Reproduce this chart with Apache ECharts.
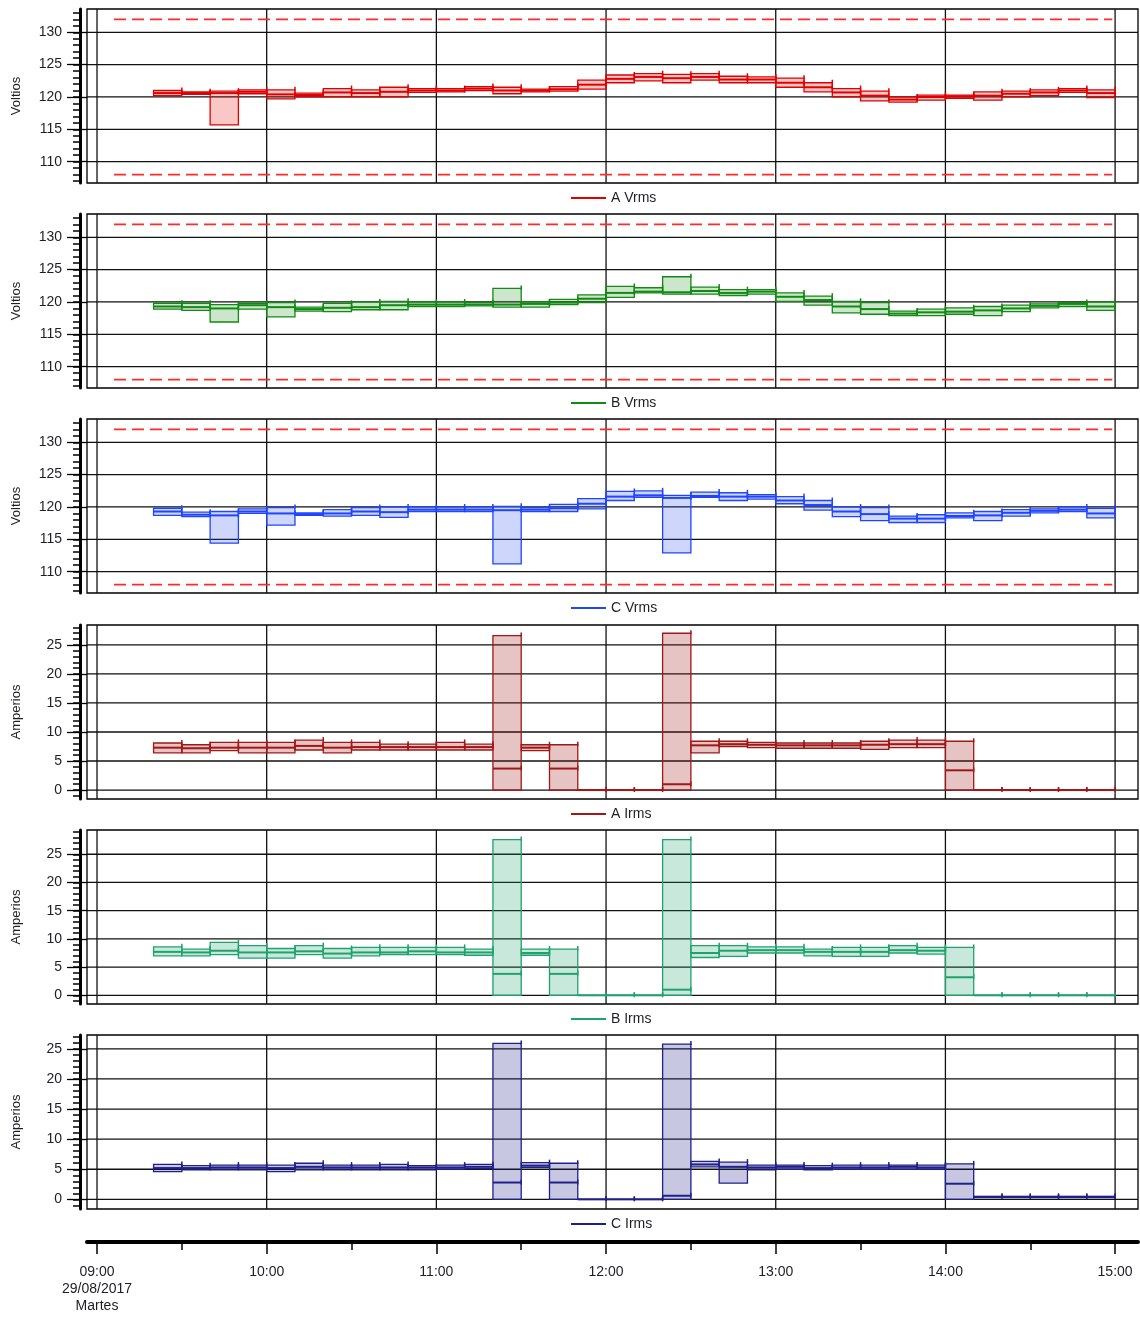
<!DOCTYPE html>
<html>
<head>
<meta charset="utf-8">
<script src="https://cdn.jsdelivr.net/npm/echarts@6/dist/echarts.min.js"></script>
<style>
  html, body { margin: 0; padding: 0; background: #fff; }
  #chart { width: 1140px; height: 1317px; }
</style>
</head>
<body>
<div id="chart"></div>
<script>
// 10-minute intervals: start time of each interval
const intervalStarts = ['09:20','09:30','09:40','09:50','10:00','10:10','10:20','10:30','10:40','10:50',
  '11:00','11:10','11:20','11:30','11:40','11:50','12:00','12:10','12:20','12:30',
  '12:40','12:50','13:00','13:10','13:20','13:30','13:40','13:50','14:00','14:10',
  '14:20','14:30','14:40','14:50'];
const intervalMinutes = 10;

// time axis labels
const hourLabels = ['09:00','10:00','11:00','12:00','13:00','14:00','15:00'];
const halfHourTicks = ['09:00','09:30','10:00','10:30','11:00','11:30','12:00','12:30','13:00','13:30','14:00','14:30','15:00'];
const firstLabelExtra = ['29/08/2017', 'Martes'];

// voltage limits (dashed lines) and their time span
const voltLimits = [108, 132];
const limitSpan = ['09:06', '14:59'];

// y tick labels
const voltTicks = [110, 115, 120, 125, 130];
const ampTicks = [0, 5, 10, 15, 20, 25];

// Phase voltages (max / average / min per interval)
const aVrmsMax = [121.0,120.8,120.9,121.1,121.1,120.6,121.3,121.1,121.5,121.3,121.3,121.6,121.5,121.2,121.6,122.6,123.4,123.6,123.5,123.6,123.2,123.1,122.9,122.2,121.3,120.9,120.0,120.3,120.3,120.8,120.9,121.1,121.3,121.1];
const aVrmsAvg = [120.6,120.6,120.6,120.8,120.4,120.3,120.7,120.6,120.8,121.0,121.0,121.3,121.0,121.0,121.2,121.9,122.8,123.1,122.9,123.1,122.7,122.7,122.2,121.5,120.7,120.2,119.6,120.0,120.1,120.2,120.5,120.7,121.0,120.6];
const aVrmsMin = [120.2,120.4,115.7,120.5,119.7,120.0,120.0,120.0,120.0,120.7,120.8,121.0,120.5,120.8,120.9,121.2,122.2,122.5,122.2,122.6,122.2,122.2,121.5,120.8,120.0,119.4,119.2,119.5,119.8,119.5,120.0,120.2,120.7,119.9];

const bVrmsMax = [119.8,119.8,119.6,119.8,119.9,119.2,119.8,120.0,120.1,120.0,120.0,119.9,122.1,120.0,120.4,121.1,122.4,122.2,123.9,122.3,121.9,121.9,121.4,120.9,120.1,119.9,118.6,118.9,119.1,119.3,119.5,119.7,119.9,120.0];
const bVrmsAvg = [119.3,119.2,119.0,119.5,119.2,118.9,119.1,119.2,119.5,119.6,119.6,119.6,119.6,119.7,119.9,120.5,121.4,121.6,121.5,121.7,121.4,121.6,120.8,120.3,119.3,118.9,118.2,118.4,118.5,118.7,119.0,119.4,119.7,119.3];
const bVrmsMin = [118.9,118.7,116.9,118.9,117.7,118.6,118.5,118.8,118.8,119.3,119.3,119.4,119.2,119.2,119.6,119.9,120.7,121.4,121.2,121.2,121.0,121.2,120.1,119.5,118.3,118.1,117.9,117.9,118.1,117.9,118.5,119.1,119.3,118.7];

const cVrmsMax = [119.8,119.2,119.3,119.7,119.9,119.1,119.6,119.9,120.0,120.0,120.0,120.0,120.1,119.9,120.4,121.3,122.4,122.5,121.8,122.3,122.2,121.9,121.6,121.0,120.0,119.9,118.6,118.8,119.1,119.3,119.6,119.7,120.0,119.8];
const cVrmsAvg = [119.3,118.8,118.7,119.3,119.0,118.9,119.0,119.3,119.2,119.6,119.6,119.6,119.5,119.6,119.8,120.5,121.6,121.8,121.4,121.7,121.6,121.6,121.0,120.3,119.3,118.9,118.2,118.2,118.6,118.7,119.1,119.4,119.6,119.0];
const cVrmsMin = [118.7,118.5,114.4,119.0,117.2,118.7,118.6,118.7,118.4,119.3,119.3,119.3,111.2,119.3,119.3,119.7,121.0,121.5,112.9,121.5,121.0,121.2,120.5,119.5,118.5,117.9,117.6,117.6,118.3,117.9,118.6,119.1,119.3,118.3];

// Phase currents (max / average / min per interval)
const aIrmsMax = [8.1,7.8,8.2,8.2,8.2,8.6,8.2,8.2,7.9,7.9,8.2,7.9,26.6,7.8,7.8,0,0,0,27.0,8.4,8.4,8.2,8.1,8.1,8.1,8.4,8.6,8.6,8.4,0,0,0,0,0];
const aIrmsAvg = [7.3,7.2,7.3,7.3,7.3,7.6,7.3,7.4,7.4,7.4,7.4,7.4,3.7,7.3,3.7,0,0,0,1.0,7.7,7.9,7.8,7.7,7.7,7.7,7.8,7.9,7.9,3.4,0,0,0,0,0];
const aIrmsMin = [6.4,6.4,6.8,6.4,6.4,6.9,6.4,6.9,6.9,6.9,6.9,6.9,0,6.8,0,0,0,0,0,6.4,7.5,7.3,7.2,7.2,7.2,7.0,7.3,7.3,0,0,0,0,0,0];

const bIrmsMax = [8.6,8.2,9.4,8.8,8.3,8.8,8.3,8.5,8.5,8.5,8.5,8.2,27.6,8.2,8.2,0,0,0,27.6,8.8,8.8,8.6,8.6,8.2,8.5,8.5,8.8,8.5,8.5,0,0,0,0,0];
const bIrmsAvg = [7.7,7.6,7.9,7.6,7.6,7.8,7.4,7.6,7.6,7.8,7.6,7.6,3.8,7.5,3.8,0,0,0,1.0,7.5,7.9,8.0,8.0,7.7,7.7,7.7,8.0,7.9,3.2,0,0,0,0,0];
const bIrmsMin = [7.0,7.0,7.2,6.6,6.6,7.2,6.6,7.0,7.2,7.2,7.2,7.1,0,7.1,0,0,0,0,0,6.7,6.9,7.5,7.5,7.0,6.9,6.9,7.5,7.3,0,0,0,0,0,0];

const cIrmsMax = [5.8,5.6,5.7,5.7,5.7,6.0,5.7,5.7,5.8,5.6,5.7,5.8,25.9,6.1,6.0,0,0,0,25.8,6.3,6.2,5.7,5.7,5.6,5.7,5.7,5.7,5.7,5.9,0.5,0.5,0.5,0.5,0.5];
const cIrmsAvg = [5.2,5.2,5.3,5.3,5.2,5.4,5.3,5.3,5.3,5.3,5.3,5.4,2.8,5.6,2.8,0,0,0,0.6,5.8,5.4,5.3,5.4,5.2,5.3,5.3,5.4,5.3,2.6,0.4,0.4,0.4,0.4,0.4];
const cIrmsMin = [4.6,4.9,4.9,4.9,4.6,4.9,4.9,4.9,4.9,4.9,5.0,5.1,0,5.3,0,0,0,0,0,5.4,2.7,4.9,5.0,4.9,5.0,5.0,5.0,5.0,0,0.3,0.3,0.3,0.3,0.3];

// minutes after 09:00
const toMin = s => { const p = s.split(':').map(Number); return p[0] * 60 + p[1] - 540; };

const X_MIN = -3.54, X_MAX = 368.1;
const GRID_LEFT = 87, GRID_WIDTH = 1051, PANEL_H = 174;
const panelTops = [9, 214, 419, 625, 830, 1035];
const FONT = 'Liberation Sans, Arial, sans-serif';
const TEXT_COLOR = '#1e1e24';

const panels = [
  { name: 'A Vrms', axisName: 'Voltios', max: aVrmsMax, avg: aVrmsAvg, min: aVrmsMin,
    stroke: '#e00000', fill: 'rgba(230,0,0,0.22)', range: [106.7, 133.6], ticks: voltTicks, limits: voltLimits },
  { name: 'B Vrms', axisName: 'Voltios', max: bVrmsMax, avg: bVrmsAvg, min: bVrmsMin,
    stroke: '#138a13', fill: 'rgba(0,128,0,0.2)', range: [106.7, 133.6], ticks: voltTicks, limits: voltLimits },
  { name: 'C Vrms', axisName: 'Voltios', max: cVrmsMax, avg: cVrmsAvg, min: cVrmsMin,
    stroke: '#1f45ff', fill: 'rgba(30,70,240,0.22)', range: [106.7, 133.6], ticks: voltTicks, limits: voltLimits },
  { name: 'A Irms', axisName: 'Amperios', max: aIrmsMax, avg: aIrmsAvg, min: aIrmsMin,
    stroke: '#a01818', fill: 'rgba(160,20,20,0.25)', range: [-1.54, 28.42], ticks: ampTicks, limits: [] },
  { name: 'B Irms', axisName: 'Amperios', max: bIrmsMax, avg: bIrmsAvg, min: bIrmsMin,
    stroke: '#1fa36e', fill: 'rgba(30,160,110,0.24)', range: [-1.54, 29.3], ticks: ampTicks, limits: [] },
  { name: 'C Irms', axisName: 'Amperios', max: cIrmsMax, avg: cIrmsAvg, min: cIrmsMin,
    stroke: '#20208a', fill: 'rgba(30,30,140,0.25)', range: [-1.6, 27.3], ticks: ampTicks, limits: [] }
];

const hourValues = hourLabels.map(toMin);

function bandRenderer(p) {
  return function (params, api) {
    const s = api.value(0), e = api.value(1);
    const lo = api.value(2), mid = api.value(3), hi = api.value(4);
    const tl = api.coord([s, hi]);
    const br = api.coord([e, lo]);
    const ma = api.coord([s, mid]);
    const mb = api.coord([e, mid]);
    return {
      type: 'group',
      children: [
        { type: 'rect', shape: { x: tl[0], y: tl[1], width: br[0] - tl[0], height: br[1] - tl[1] },
          style: { fill: p.fill, stroke: p.stroke, lineWidth: 1.3 } },
        { type: 'line', shape: { x1: ma[0], y1: ma[1], x2: mb[0], y2: mb[1] },
          style: { stroke: p.stroke, lineWidth: 2 } },
        { type: 'line', shape: { x1: br[0], y1: tl[1] - 3, x2: br[0], y2: tl[1] + 1 },
          style: { stroke: p.stroke, lineWidth: 1.5 } },
        { type: 'line', shape: { x1: mb[0], y1: mb[1] - 3, x2: mb[0], y2: mb[1] + 2 },
          style: { stroke: p.stroke, lineWidth: 1.5 } }
      ]
    };
  };
}

const grid = [], xAxis = [], yAxis = [], series = [], legend = [];

panels.forEach((p, k) => {
  const top = panelTops[k];
  grid.push({ left: GRID_LEFT, top: top, width: GRID_WIDTH, height: PANEL_H, show: true,
    borderColor: '#000', borderWidth: 1.3, backgroundColor: 'transparent',
    containLabel: false, outerBoundsMode: 'none' });

  xAxis.push({ type: 'value', gridIndex: k, min: X_MIN, max: X_MAX, show: false,
    axisLine: { onZero: false } });

  const minorVals = [];
  for (let v = Math.ceil(p.range[0]); v <= Math.floor(p.range[1]); v++) minorVals.push(v);

  // thick axis line with minor ticks
  yAxis.push({ type: 'value', gridIndex: k, min: p.range[0], max: p.range[1], position: 'left', offset: 7,
    axisLine: { show: true, onZero: false, lineStyle: { color: '#000', width: 3 } },
    axisTick: { show: true, customValues: minorVals, length: 7, lineStyle: { color: '#000', width: 1.5 } },
    axisLabel: { show: false }, splitLine: { show: false } });

  // major ticks, labels and axis name
  yAxis.push({ type: 'value', gridIndex: k, min: p.range[0], max: p.range[1], position: 'left', offset: 0,
    name: p.axisName, nameLocation: 'middle', nameRotate: 90, nameGap: 64,
    nameTextStyle: { fontSize: 13, color: TEXT_COLOR, fontFamily: FONT },
    axisLine: { show: false, onZero: false },
    axisTick: { show: true, customValues: p.ticks, length: 20, lineStyle: { color: '#000', width: 1.3 } },
    axisLabel: { show: true, customValues: p.ticks, margin: 25, fontSize: 14, color: TEXT_COLOR, fontFamily: FONT },
    splitLine: { show: false } });

  const yi = 2 * k;

  // horizontal grid lines
  series.push({ type: 'custom', xAxisIndex: k, yAxisIndex: yi, silent: true, z: 1, animation: false,
    data: p.ticks.map(v => [0, v]), encode: { x: 0, y: 1 },
    renderItem: (params, api) => {
      const cs = params.coordSys;
      const y = api.coord([0, api.value(1)])[1];
      return { type: 'line', shape: { x1: cs.x, y1: y, x2: cs.x + cs.width, y2: y },
        style: { stroke: '#111', lineWidth: 1.3 } };
    } });

  // vertical hour lines
  series.push({ type: 'custom', xAxisIndex: k, yAxisIndex: yi, silent: true, z: 1, animation: false,
    data: hourValues.map(m => [m, p.ticks[0]]), encode: { x: 0, y: 1 },
    renderItem: (params, api) => {
      const cs = params.coordSys;
      const x = api.coord([api.value(0), 0])[0];
      return { type: 'line', shape: { x1: x, y1: cs.y, x2: x, y2: cs.y + cs.height },
        style: { stroke: '#111', lineWidth: 1.3 } };
    } });

  // limit lines
  p.limits.forEach(v => {
    series.push({ type: 'line', xAxisIndex: k, yAxisIndex: yi, silent: true, z: 2, animation: false,
      symbol: 'none', data: [[toMin(limitSpan[0]), v], [toMin(limitSpan[1]), v]],
      lineStyle: { color: '#ff2a2a', width: 1.6, type: [12, 6] } });
  });

  // min / avg / max bands
  series.push({ type: 'custom', name: p.name, xAxisIndex: k, yAxisIndex: yi, z: 3, animation: false,
    itemStyle: { color: p.stroke },
    data: intervalStarts.map((t, i) => [toMin(t), toMin(t) + intervalMinutes, p.min[i], p.avg[i], p.max[i]]),
    encode: { x: [0, 1], y: [2, 3, 4] },
    renderItem: bandRenderer(p) });

  legend.push({ data: [{ name: p.name, icon: 'rect', itemStyle: { color: p.stroke } }],
    left: 571, top: top + PANEL_H + 8, itemWidth: 35, itemHeight: 2, padding: 0,
    selectedMode: false, textStyle: { fontSize: 14, color: TEXT_COLOR, fontFamily: FONT } });
});

// shared time axis at the bottom
const tg = panels.length;
grid.push({ left: GRID_LEFT, top: 1241, width: GRID_WIDTH, height: 1, show: false,
  containLabel: false, outerBoundsMode: 'none' });
yAxis.push({ type: 'value', gridIndex: tg, min: 0, max: 1, show: false });
xAxis.push({ type: 'value', gridIndex: tg, min: X_MIN, max: X_MAX, position: 'bottom',
  axisLine: { show: true, onZero: false, lineStyle: { color: '#000', width: 4, cap: 'round' } },
  axisTick: { show: true, customValues: halfHourTicks.map(toMin), length: 8, lineStyle: { color: '#000', width: 1.5 } },
  axisLabel: { show: false }, splitLine: { show: false } });
xAxis.push({ type: 'value', gridIndex: tg, min: X_MIN, max: X_MAX, position: 'bottom', offset: 0,
  axisLine: { show: false, onZero: false },
  axisTick: { show: true, customValues: hourValues, length: 12, lineStyle: { color: '#000', width: 1.5 } },
  axisLabel: { show: true, customValues: hourValues, margin: 22, fontSize: 14, lineHeight: 17,
    color: TEXT_COLOR, fontFamily: FONT, align: 'center',
    formatter: v => {
      const i = hourValues.indexOf(Math.round(v));
      if (i < 0) return '';
      return i === 0 ? [hourLabels[0]].concat(firstLabelExtra).join('\n') : hourLabels[i];
    } },
  splitLine: { show: false } });

const chart = echarts.init(document.getElementById('chart'), null, { renderer: 'canvas' });
chart.setOption({
  animation: false,
  backgroundColor: '#fff',
  textStyle: { fontFamily: FONT },
  grid, xAxis, yAxis, series, legend
});
</script>
</body>
</html>
